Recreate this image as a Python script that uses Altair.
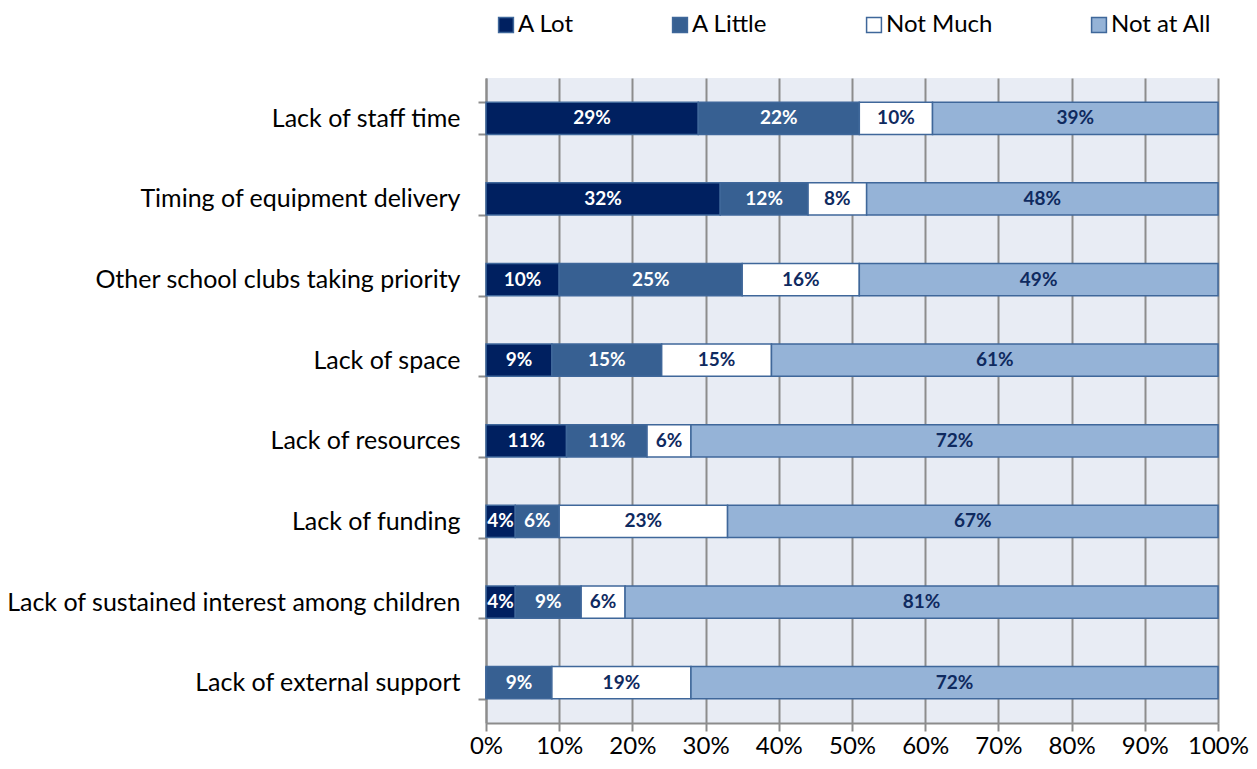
import altair as alt
import pandas as pd

categories = [
    "Lack of staff time",
    "Timing of equipment delivery",
    "Other school clubs taking priority",
    "Lack of space",
    "Lack of resources",
    "Lack of funding",
    "Lack of sustained interest among children",
    "Lack of external support",
]
series = ["A Lot", "A Little", "Not Much", "Not at All"]
a_lot = [29, 32, 10, 9, 11, 4, 4, 0]
a_little = [22, 12, 25, 15, 11, 6, 9, 9]
not_much = [10, 8, 16, 15, 6, 23, 6, 19]
not_at_all = [39, 48, 49, 61, 72, 67, 81, 72]
x_ticks = [0, 10, 20, 30, 40, 50, 60, 70, 80, 90, 100]

fill_colors = ["#002060", "#376092", "#FFFFFF", "#95B3D7"]
label_colors = ["#FFFFFF", "#FFFFFF", "#0F2A5F", "#0F2A5F"]

rows = []
for i, c in enumerate(categories):
    for j, (s, vals) in enumerate(zip(series, [a_lot, a_little, not_much, not_at_all])):
        rows.append({"category": c, "series": s, "order": j, "value": vals[i]})
df = pd.DataFrame(rows)

FONT = "Lato"
GRID = "#8C8C8C"

base = alt.Chart(df).transform_stack(
    stack="value", groupby=["category"], as_=["x0", "x1"],
    sort=[alt.SortField("order", order="ascending")]
).transform_calculate(
    mid="(datum.x0 + datum.x1) / 2",
    label="datum.value > 0 ? datum.value + '%' : ''",
)

y_enc = alt.Y(
    "category:N", sort=categories, title=None,
    scale=alt.Scale(paddingInner=0.6, paddingOuter=0.3),
    axis=alt.Axis(
        tickBand="extent", labelFontSize=25, labelFont=FONT, labelColor="#000000",
        labelPadding=18, tickSize=8, tickColor=GRID, domainColor=GRID,
        tickWidth=2, domainWidth=2, labelLimit=600,
    ),
)

bars = base.mark_bar(stroke="#3F679A", strokeWidth=1.5).encode(
    x=alt.X(
        "x0:Q", title=None, scale=alt.Scale(domain=[0, 100], nice=False),
        axis=alt.Axis(
            values=x_ticks, labelExpr="datum.value + '%'", labelFontSize=24,
            labelFont=FONT, labelColor="#000000", tickSize=8, tickColor=GRID,
            tickWidth=2, domainColor=GRID, domainWidth=2, grid=True,
            gridColor=GRID, gridWidth=2, labelPadding=3,
            labelOverlap=False, labelFlush=False,
        ),
    ),
    x2="x1:Q",
    y=y_enc,
    order=alt.Order("order:Q"),
    color=alt.Color(
        "series:N", scale=alt.Scale(domain=series, range=fill_colors),
        legend=alt.Legend(
            title=None, orient="none", direction="horizontal",
            legendX=8, legendY=-65, symbolType="square", symbolSize=220,
            symbolStrokeColor="#3F679A", symbolStrokeWidth=1.5,
            labelFontSize=24, labelFont=FONT, labelColor="#000000",
            columnPadding=94, labelOffset=0,
        ),
    ),
)

texts = base.mark_text(fontWeight="bold", fontSize=19, font=FONT).encode(
    x="mid:Q",
    y=y_enc,
    text="label:N",
    color=alt.Color("series:N", scale=alt.Scale(domain=series, range=label_colors), legend=None),
)

chart = alt.layer(bars, texts).resolve_scale(color="independent").properties(
    width=732, height=645, autosize="none",
    padding={"left": 478, "top": 70, "right": 31, "bottom": 37},
).configure_view(fill="#E8ECF4", stroke=None)

chart.save("out.html", embed_options={"renderer": "svg", "actions": False})
